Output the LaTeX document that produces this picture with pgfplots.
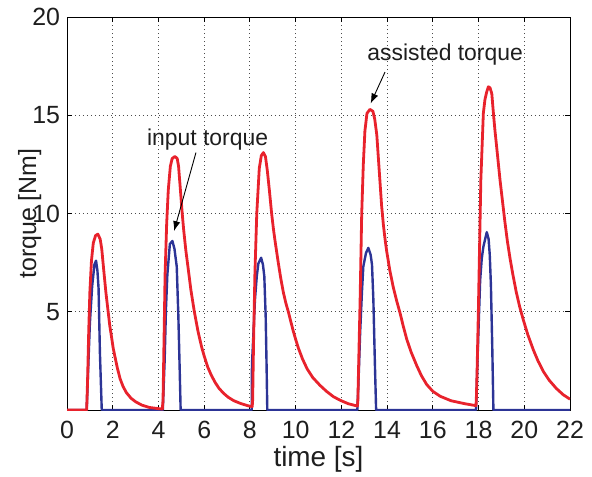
\documentclass[border=0pt]{standalone}
\usepackage{fontspec}
\setmainfont{Liberation Sans}
\usepackage{pgfplots}
\pgfplotsset{compat=1.18}
\usetikzlibrary{arrows.meta}
\definecolor{myred}{RGB}{232,34,44}
\definecolor{myblue}{RGB}{44,52,150}
\definecolor{txt}{RGB}{30,30,30}

\begin{document}
\begin{tikzpicture}
\useasboundingbox (-33.5bp,-33.5bp) rectangle (262.5bp,205bp);
\begin{axis}[
  scale only axis, width=251.5bp, height=196.5bp,
  xmin=0, xmax=22, ymin=0, ymax=20,
  xtick={0,2,...,22}, ytick={5,10,15,20},
  grid=major,
  major grid style={dash pattern=on 0.5bp off 1.5bp, black!70, line width=0.45bp},
  tick align=inside, major tick length=2.5bp,
  axis line style={line width=0.5bp, black},
  every tick/.style={black, line width=0.45bp},
  tick label style={font=\fontsize{12.5}{14}\selectfont, text=txt},
  xticklabel style={yshift=-2bp},
  /pgf/number format/assume math mode=true,
  xlabel={time [s]}, ylabel={torque [Nm]},
  xlabel style={font=\fontsize{14}{16}\selectfont, text=txt, at={(axis description cs:0.5,-0.125)}, anchor=center},
  ylabel style={font=\fontsize{12.5}{15}\selectfont, text=txt, at={(axis description cs:-0.074,0.5)}, anchor=center},
  clip=true,
]
% input torque (blue)
\addplot[myblue, line width=1.2bp, line join=round] coordinates {
(0,0) (0.86,0) (0.93,2.2) (1.0,4.4) (1.1,6.3) (1.2,7.4) (1.27,7.6) (1.33,7.1) (1.38,6.2) (1.44,2.9) (1.52,0)
(4.19,0) (4.27,2.5) (4.33,5.2) (4.39,6.9) (4.5,8.45) (4.61,8.6) (4.7,8.2) (4.8,7.3) (4.87,4.8) (4.93,2.0) (4.97,0)
(8.08,0) (8.09,2.3) (8.15,3.8) (8.22,5.6) (8.3,6.8) (8.37,7.45) (8.49,7.75) (8.57,7.4) (8.63,6.8) (8.69,4.75) (8.73,2.2) (8.76,0)
(12.7,0) (12.76,1.8) (12.82,3.9) (12.9,6.0) (12.96,7.3) (13.08,8.0) (13.18,8.25) (13.28,7.9) (13.34,7.4) (13.4,5.6) (13.47,2.2) (13.52,0)
(17.89,0) (17.94,2.0) (17.99,3.8) (18.07,6.6) (18.14,7.7) (18.21,8.3) (18.36,9.05) (18.44,8.7) (18.49,7.9) (18.54,6.4) (18.6,3.2) (18.65,0)
(22,0)
};
% assisted torque (red)
\addplot[myred, line width=1.4bp, line join=round] coordinates {
(0,0) (0.86,0) (0.9,1.5) (0.95,4.0) (1.0,6.0) (1.07,7.6) (1.15,8.5) (1.25,8.88) (1.35,8.95) (1.45,8.7) (1.52,8.2) (1.6,7.2) (1.7,6.0) (1.8,5.0)
(1.87,4.3) (1.95,3.7) (2.02,3.15) (2.1,2.7) (2.2,2.15) (2.32,1.6) (2.45,1.2) (2.6,0.88) (2.8,0.6) (3.0,0.42) (3.27,0.25) (3.6,0.13) (4.0,0.07) (4.17,0.05)
(4.2,0.5) (4.25,4.0) (4.29,6.9) (4.36,9.5) (4.43,11.2) (4.52,12.4) (4.6,12.8) (4.72,12.9) (4.82,12.8) (4.88,12.4) (4.94,11.5) (5.04,10.0)
(5.1,9.2) (5.2,8.1) (5.3,7.2) (5.42,6.1) (5.57,5.0) (5.73,4.0) (5.89,3.2) (6.0,2.75) (6.15,2.2) (6.3,1.8) (6.47,1.42) (6.65,1.1) (6.85,0.85) (7.05,0.65) (7.3,0.47) (7.6,0.33) (7.9,0.22) (8.1,0.17)
(8.12,0.5) (8.16,3.5) (8.22,7.0) (8.3,10.0) (8.41,12.3) (8.5,12.95) (8.59,13.1) (8.68,12.9) (8.76,12.2) (8.85,11.2) (8.95,10.0)
(9.03,9.2) (9.1,8.6) (9.24,7.5) (9.35,6.7) (9.46,6.0) (9.57,5.45) (9.68,5.0) (9.8,4.45) (9.9,4.0) (10.0,3.6) (10.12,3.15) (10.3,2.6) (10.5,2.1) (10.75,1.65) (11.07,1.25) (11.35,0.95) (11.65,0.68) (11.94,0.5) (12.3,0.32) (12.7,0.2)
(12.72,0.4) (12.76,2.5) (12.82,5.6) (12.89,10.0) (12.96,12.5) (13.03,14.2) (13.12,15.1) (13.25,15.3) (13.38,15.2) (13.46,14.8) (13.55,14.0)
(13.62,12.8) (13.69,11.6) (13.76,10.4) (13.84,9.4) (13.91,8.7) (13.98,8.1) (14.12,7.1) (14.27,6.25) (14.42,5.55) (14.57,4.92) (14.7,4.3) (14.86,3.6) (15.05,2.95) (15.3,2.25) (15.5,1.75) (15.73,1.3) (16.0,0.95) (16.32,0.7) (16.8,0.47) (17.4,0.32) (17.89,0.22)
(17.91,0.8) (17.94,2.2) (17.99,4.9) (18.1,11.7) (18.21,15.1) (18.28,15.8) (18.36,16.2) (18.43,16.45) (18.5,16.4) (18.58,16.1) (18.65,15.1)
(18.72,14.2) (18.8,13.3) (18.87,12.5) (18.94,11.7) (19.05,10.6) (19.15,9.6) (19.26,8.6) (19.38,7.7) (19.5,6.9) (19.65,6.0) (19.8,5.25) (19.96,4.58) (20.15,3.85) (20.4,3.05) (20.6,2.5) (20.84,1.95) (21.1,1.5) (21.4,1.1) (21.7,0.78) (22,0.55)
};
\node[font=\fontsize{11.5}{13}\selectfont, text=txt, anchor=center] at (axis cs:6.15,13.75) {input torque};
\draw[-{Latex[length=5bp,width=3.6bp]}, line width=0.45bp, black] (axis cs:5.64,13.1) -- (axis cs:4.68,9.1);
\node[font=\fontsize{11.5}{13}\selectfont, text=txt, anchor=center] at (axis cs:16.54,18.1) {assisted torque};
\draw[-{Latex[length=5bp,width=3.6bp]}, line width=0.45bp, black] (axis cs:13.91,17.2) -- (axis cs:13.28,15.6);
\end{axis}
\end{tikzpicture}
\end{document}
